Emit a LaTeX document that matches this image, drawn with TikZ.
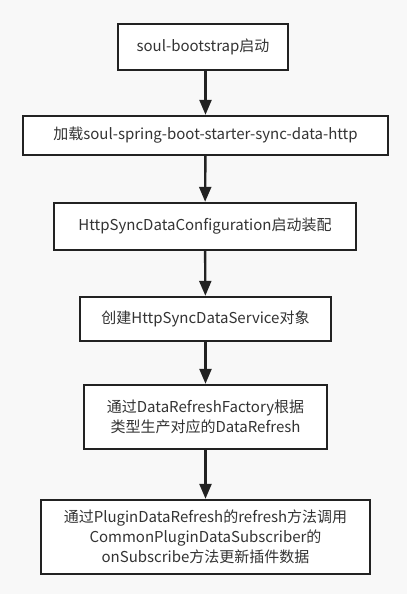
\documentclass[tikz,border=0pt]{standalone}
\usepackage{fontspec}
\setmainfont{Noto Sans CJK SC}
\usepackage{tikz}
\usetikzlibrary{arrows.meta, positioning}

\definecolor{bgcolor}{HTML}{F8F8F8}
\definecolor{linecolor}{HTML}{222222}
\definecolor{textcolor}{HTML}{333333}

\tikzset{
    stepbox/.style={draw=linecolor, line width=2.4pt, fill=white, text=textcolor,
        align=center, inner sep=0pt, font=\fontsize{15}{20}\selectfont},
    flow/.style={draw=linecolor, line width=2.4pt,
        -{Triangle[width=12pt, length=15pt]}}
}

\begin{document}
\begin{tikzpicture}[x=1pt, y=-1pt]

    % =================================================================
    % 1. NỀN VÀ KHUNG ẢNH
    % =================================================================
    \fill[bgcolor] (0,0) rectangle (407,594);
    \useasboundingbox (0,0) rectangle (407,594);

    % =================================================================
    % 2. CÁC BƯỚC (HỘP)
    % =================================================================
    \node[stepbox, minimum width=170pt, minimum height=46pt] (boot) at (203,47)
        {soul-bootstrap启动};
    \node[stepbox, minimum width=365pt, minimum height=39pt] (load) at (205.5,135.5)
        {加载soul-spring-boot-starter-sync-data-http};
    \node[stepbox, minimum width=302pt, minimum height=47pt] (config) at (205,226.5)
        {HttpSyncDataConfiguration启动装配};
    \node[stepbox, minimum width=251pt, minimum height=44pt] (service) at (205.5,319)
        {创建HttpSyncDataService对象};
    \node[stepbox, minimum width=243pt, minimum height=64pt] (factory) at (205.5,417)
        {通过DataRefreshFactory根据\\类型生产对应的DataRefresh};
    \node[stepbox, minimum width=329pt, minimum height=74pt] (subscriber) at (205.5,537)
        {通过PluginDataRefresh的refresh方法调用\\CommonPluginDataSubscriber的\\onSubscribe方法更新插件数据};

    % =================================================================
    % 3. MŨI TÊN NỐI CÁC BƯỚC
    % =================================================================
    \draw[flow] (boot.south -| load.north) -- (load.north);
    \draw[flow] (load) -- (config);
    \draw[flow] (config) -- (service);
    \draw[flow] (service) -- (factory);
    \draw[flow] (factory) -- (subscriber);

\end{tikzpicture}
\end{document}
